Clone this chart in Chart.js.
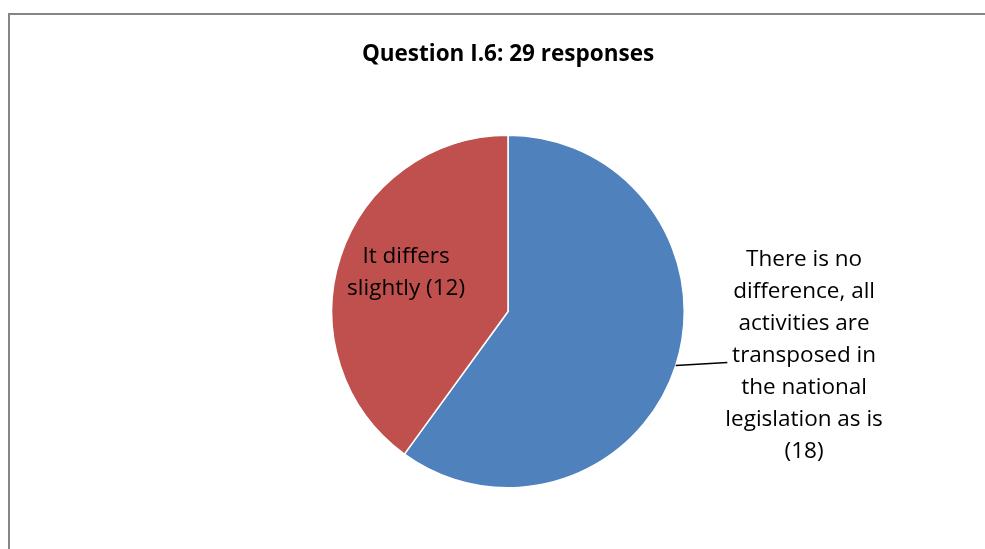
<!DOCTYPE html>
<html>
<head>
<meta charset="utf-8">
<script src="https://cdn.jsdelivr.net/npm/chart.js@4.4.1/dist/chart.umd.min.js"></script>
<style>
  html, body { margin: 0; padding: 0; background: #fff; overflow: hidden; }
  #wrap { position: relative; width: 985px; height: 549px; }
  #frame { position: absolute; left: 8px; top: 13px; width: 990px; height: 560px; border: 2px solid #868686; box-sizing: border-box; }
  canvas { position: absolute; left: 0; top: 0; }
</style>
</head>
<body>
<div id="wrap">
  <div id="frame"></div>
  <canvas id="pie" width="985" height="549"></canvas>
</div>
<script>
// data
const chartTitle = 'Question I.6: 29 responses';
const categories = [
  ['There is no', 'difference, all', 'activities are', 'transposed in', 'the national', 'legislation as is', '(18)'],
  ['It differs', 'slightly (12)']
];
const responses = [18, 12];
const sliceColors = ['#4F81BD', '#C0504D'];

const FONT = '"Open Sans", Calibri, Carlito, sans-serif';

// labels: first slice outside with leader, second inside the slice
const sliceLabels = {
  id: 'sliceLabels',
  afterDatasetsDraw(chart) {
    const ctx = chart.ctx;
    const arcs = chart.getDatasetMeta(0).data;
    ctx.save();
    ctx.font = '22.5px ' + FONT;
    ctx.fillStyle = '#000';
    ctx.textAlign = 'center';
    ctx.textBaseline = 'middle';
    const lh = 32;

    // inside label (red slice)
    const a1 = arcs[1];
    const mid1 = (a1.startAngle + a1.endAngle) / 2;
    const r = a1.outerRadius;
    const lines1 = categories[1];
    const cx1 = a1.x + Math.cos(mid1) * r * 0.62 + 2;
    const cy1 = a1.y + Math.sin(mid1) * r * 0.62 - 5;
    lines1.forEach((t, i) => ctx.fillText(t, cx1, cy1 + (i - (lines1.length - 1) / 2) * lh));

    // outside label (blue slice) with leader line
    const a0 = arcs[0];
    const lines0 = categories[0];
    const cx0 = a0.x + r * 1.68;
    const cy0 = a0.y + r * 0.25;
    lines0.forEach((t, i) => ctx.fillText(t, cx0, cy0 + (i - (lines0.length - 1) / 2) * lh));
    const ly = cy0 + 10;
    const dy = ly - a0.y;
    const px = a0.x + Math.sqrt(r * r - dy * dy);
    const widest = Math.max(...lines0.map(t => ctx.measureText(t).width));
    ctx.strokeStyle = '#000';
    ctx.lineWidth = 1.5;
    ctx.beginPath();
    ctx.moveTo(px, ly);
    ctx.lineTo(cx0 - widest / 2 + 2, ly - 3);
    ctx.stroke();
    ctx.restore();
  }
};

new Chart(document.getElementById('pie'), {
  type: 'pie',
  data: {
    labels: categories.map(l => l.join(' ')),
    datasets: [{
      data: responses,
      backgroundColor: sliceColors,
      borderColor: '#ffffff',
      borderWidth: 1.5
    }]
  },
  options: {
    responsive: false,
    animation: false,
    events: [],
    layout: { padding: { top: 0, bottom: 60, left: 331, right: 300 } },
    plugins: {
      legend: { display: false },
      tooltip: { enabled: false },
      title: {
        display: true,
        text: chartTitle,
        color: '#000',
        font: { family: FONT, size: 22.5, weight: 'bold', lineHeight: 1.2 },
        padding: { top: 41, bottom: 66 }
      }
    }
  },
  plugins: [sliceLabels]
});
</script>
</body>
</html>
